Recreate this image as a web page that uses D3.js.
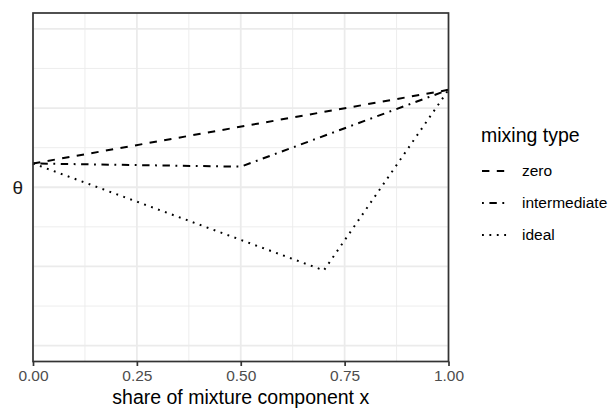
<!DOCTYPE html>
<html lang="en">
<head>
    <meta charset="UTF-8">
    <title>mixing type</title>
    <script src="https://d3js.org/d3.v7.min.js"></script>
    <style>
        body {
            margin: 0;
            background-color: white;
            font-family: "Liberation Sans", Arial, sans-serif;
        }
        svg {
            display: block;
        }
    </style>
</head>
<body>
<svg></svg>
<script>
    // data (y in arbitrary units, theta sits at 2)
    const xTicks = [0, 0.25, 0.5, 0.75, 1];
    const xTickLabels = ["0.00", "0.25", "0.50", "0.75", "1.00"];
    const yBreaks = [0, 1, 2, 3, 4];
    const yLabels = ["", "", "θ", "", ""];

    const zeroX = [0, 1];
    const zeroY = [2.30, 3.23];
    const intermediateX = [0, 0.5, 1];
    const intermediateY = [2.30, 2.26, 3.23];
    const idealX = [0, 0.7, 1];
    const idealY = [2.30, 0.95, 3.23];

    const seriesNames = ["zero", "intermediate", "ideal"];
    const dashes = {
        zero: "7.4,7.4",
        intermediate: "1.85,5.55,7.4,5.55",
        ideal: "1.85,5.55"
    };

    const W = 611, H = 409;
    const panel = {left: 33, right: 448.5, top: 13, bottom: 361.5};

    const svg = d3.select("svg").attr("width", W).attr("height", H);

    const x = d3.scaleLinear().domain([-0.0, 1.0]).range([panel.left, panel.right]);
    const y = d3.scaleLinear().domain([-0.2, 4.2]).range([panel.bottom, panel.top]);

    const series = [
        {key: "zero", values: zeroX.map((v, i) => ({x: v, y: zeroY[i]}))},
        {key: "intermediate", values: intermediateX.map((v, i) => ({x: v, y: intermediateY[i]}))},
        {key: "ideal", values: idealX.map((v, i) => ({x: v, y: idealY[i]}))}
    ];

    // grid
    const grid = svg.append("g");
    const minorX = d3.range(0.125, 1, 0.25);
    const minorY = d3.range(0.5, 4, 1);
    grid.selectAll(".vminor").data(minorX).enter().append("line")
        .attr("x1", d => x(d)).attr("x2", d => x(d))
        .attr("y1", panel.top).attr("y2", panel.bottom)
        .attr("stroke", "#ebebeb").attr("stroke-width", 0.9);
    grid.selectAll(".hminor").data(minorY).enter().append("line")
        .attr("y1", d => y(d)).attr("y2", d => y(d))
        .attr("x1", panel.left).attr("x2", panel.right)
        .attr("stroke", "#ebebeb").attr("stroke-width", 0.9);
    grid.selectAll(".vmajor").data(xTicks).enter().append("line")
        .attr("x1", d => x(d)).attr("x2", d => x(d))
        .attr("y1", panel.top).attr("y2", panel.bottom)
        .attr("stroke", "#ebebeb").attr("stroke-width", 1.8);
    grid.selectAll(".hmajor").data(yBreaks).enter().append("line")
        .attr("y1", d => y(d)).attr("y2", d => y(d))
        .attr("x1", panel.left).attr("x2", panel.right)
        .attr("stroke", "#ebebeb").attr("stroke-width", 1.8);

    // lines
    const line = d3.line().x(d => x(d.x)).y(d => y(d.y));
    svg.selectAll(".series").data(series).enter().append("path")
        .attr("d", d => line(d.values))
        .attr("fill", "none")
        .attr("stroke", "black")
        .attr("stroke-width", 2)
        .attr("stroke-dasharray", d => dashes[d.key]);

    // panel border
    svg.append("rect")
        .attr("x", panel.left).attr("y", panel.top)
        .attr("width", panel.right - panel.left)
        .attr("height", panel.bottom - panel.top)
        .attr("fill", "none")
        .attr("stroke", "#333333")
        .attr("stroke-width", 1.7);

    // x axis
    const xAxis = svg.append("g")
        .attr("transform", `translate(0,${panel.bottom})`)
        .call(d3.axisBottom(x).tickValues(xTicks)
            .tickFormat((d, i) => xTickLabels[i])
            .tickSize(4.5).tickPadding(4));
    xAxis.select(".domain").remove();
    xAxis.selectAll(".tick line").attr("stroke", "#333333").attr("stroke-width", 1.7);
    xAxis.selectAll(".tick text")
        .attr("fill", "#4d4d4d")
        .style("font-size", "15.5px")
        .style("font-family", "'Liberation Sans', Arial, sans-serif");

    // y axis labels (no ticks)
    svg.append("g").selectAll("text").data(yBreaks).enter().append("text")
        .attr("x", 23)
        .attr("y", d => y(d))
        .attr("dy", "0.35em")
        .attr("text-anchor", "end")
        .attr("fill", "#1a1a1a")
        .style("font-size", "19px")
        .text((d, i) => yLabels[i]);

    // x title
    svg.append("text")
        .attr("x", (panel.left + panel.right) / 2)
        .attr("y", 404)
        .attr("text-anchor", "middle")
        .attr("fill", "black")
        .style("font-size", "19.5px")
        .text("share of mixture component x");

    // legend
    const legend = svg.append("g");
    legend.append("text")
        .attr("x", 481).attr("y", 142)
        .attr("fill", "black")
        .style("font-size", "19.5px")
        .text("mixing type");
    const keyY = d3.scalePoint().domain(seriesNames).range([171, 235]);
    const items = legend.selectAll(".item").data(seriesNames).enter().append("g");
    items.append("line")
        .attr("x1", 482).attr("x2", 507)
        .attr("y1", d => keyY(d)).attr("y2", d => keyY(d))
        .attr("stroke", "black").attr("stroke-width", 2)
        .attr("stroke-dasharray", d => dashes[d]);
    items.append("text")
        .attr("x", 522).attr("y", d => keyY(d))
        .attr("dy", "0.33em")
        .attr("fill", "black")
        .style("font-size", "15.5px")
        .text(d => d);
</script>
</body>
</html>
